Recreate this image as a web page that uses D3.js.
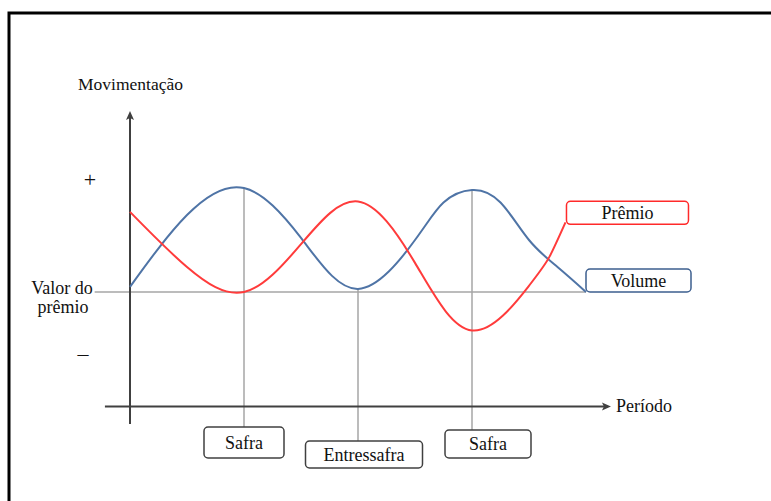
<!DOCTYPE html>
<html>
<head>
<meta charset="utf-8">
<script src="https://cdn.jsdelivr.net/npm/d3@7"></script>
<style>
body { margin: 0; background: #fff; }
</style>
</head>
<body>
<div id="chart"></div>
<script>
// periodos (x) e rotulos das marcas
var periodos = [0, 1, 2, 3, 4];
var rotulos = ["Safra", "Entressafra", "Safra"];
var rotuloPeriodo = [1, 2, 3];

// curvas (t = periodo, v = movimentacao)
var volumeT = [0, 0.5, 1, 1.5, 2, 2.5, 2.75, 3, 3.25, 3.5, 3.75, 4];
var volumeV = [0.05, 0.74, 1.0, 0.52, 0.03, 0.5, 0.86, 0.98, 0.86, 0.5, 0.24, 0.0];
var premioT = [0, 0.5, 1, 1.5, 2, 2.5, 3, 3.5, 3.68, 3.82];
var premioV = [0.77, 0.24, 0.0, 0.46, 0.87, 0.28, -0.37, 0.06, 0.34, 0.67];

var serif = '"Liberation Serif", "DejaVu Serif", "Times New Roman", serif';
var W = 771, H = 501;
var svg = d3.select('#chart').append('svg')
    .attr('width', W).attr('height', H)
    .attr('font-family', serif);

var x = d3.scaleLinear().domain([0, 4]).range([130, 586]);
var y = d3.scaleLinear().domain([-1, 1]).range([396, 188]);

// moldura
svg.append('rect')
    .attr('x', 9).attr('y', 13)
    .attr('width', W + 20).attr('height', H + 20)
    .attr('fill', 'none').attr('stroke', '#000').attr('stroke-width', 3);

var axisColor = '#404040', gray = '#a6a6a6';

// linha base (valor do premio)
svg.append('line')
    .attr('x1', x(-0.31)).attr('x2', x(4))
    .attr('y1', y(0)).attr('y2', y(0))
    .attr('stroke', gray).attr('stroke-width', 1.5);

// linhas verticais ate as caixas
var caixas = [
    {dx: 0, top: 427, w: 80, h: 31},
    {dx: 6, top: 441, w: 117, h: 27},
    {dx: 16, top: 430, w: 86, h: 28}
];
var volumeAt = function(t) { return volumeV[volumeT.indexOf(t)]; };

rotuloPeriodo.forEach(function(p, i) {
    svg.append('line')
        .attr('x1', x(p)).attr('x2', x(p))
        .attr('y1', y(volumeAt(p))).attr('y2', caixas[i].top)
        .attr('stroke', gray).attr('stroke-width', 1.5);
});

// eixos
svg.append('line')
    .attr('x1', x(0)).attr('x2', x(0))
    .attr('y1', y(-1.27)).attr('y2', y(1.71))
    .attr('stroke', axisColor).attr('stroke-width', 2);
svg.append('path')
    .attr('d', 'M' + x(0) + ',' + (y(1.73) - 1) + 'l-4,9l4,-2l4,2z')
    .attr('fill', axisColor);

svg.append('line')
    .attr('x1', x(-0.22)).attr('x2', x(4.19))
    .attr('y1', y(-1.1)).attr('y2', y(-1.1))
    .attr('stroke', axisColor).attr('stroke-width', 2);
svg.append('path')
    .attr('d', 'M' + (x(4.21) + 1) + ',' + y(-1.1) + 'l-9,-4l2,4l-2,4z')
    .attr('fill', axisColor);

// curvas
var line = d3.line()
    .x(function(d) { return x(d[0]); })
    .y(function(d) { return y(d[1]); })
    .curve(d3.curveNatural);

svg.append('path')
    .datum(d3.zip(volumeT, volumeV))
    .attr('d', line)
    .attr('fill', 'none').attr('stroke', '#4f74a6').attr('stroke-width', 2);

svg.append('path')
    .datum(d3.zip(premioT, premioV))
    .attr('d', line)
    .attr('fill', 'none').attr('stroke', '#ff3b3b').attr('stroke-width', 2);

// caixas com texto
function caixa(x0, y0, w, h, stroke, label) {
    svg.append('rect')
        .attr('x', x0).attr('y', y0).attr('width', w).attr('height', h)
        .attr('rx', 4).attr('fill', '#fff')
        .attr('stroke', stroke).attr('stroke-width', 1.5);
    svg.append('text')
        .attr('x', x0 + w / 2).attr('y', y0 + h / 2 + 6)
        .attr('text-anchor', 'middle')
        .attr('font-family', serif)
        .style('font-size', '18px').style('fill', '#111')
        .text(label);
}

var premioFim = premioT.length - 1;
caixa(x(premioT[premioFim]) + 1, y(premioV[premioFim]) - 21, 122, 23, '#ff2a2a', 'Prêmio');
caixa(x(4), y(0) - 23, 105, 23, '#3d5f8f', 'Volume');

rotuloPeriodo.forEach(function(p, i) {
    var c = caixas[i];
    caixa(x(p) - c.w / 2 + c.dx, c.top, c.w, c.h, '#404040', rotulos[i]);
});

// textos soltos
function texto(tx, ty, size, anchor, label) {
    svg.append('text').attr('x', tx).attr('y', ty)
        .attr('text-anchor', anchor)
        .attr('font-family', serif)
        .style('font-size', size).style('fill', '#111')
        .text(label);
}
texto(78, 90, '17.5px', 'start', 'Movimentação');
texto(x(4.21) + 6, y(-1.1) + 6, '18px', 'start', 'Período');
texto(90, y(1.08) + 7, '22px', 'middle', '+');
texto(83, y(-0.6) + 7, '22px', 'middle', '–');
texto(62, y(0) + 2, '18px', 'middle', 'Valor do');
texto(63, y(0) + 21, '18px', 'middle', 'prêmio');
</script>
</body>
</html>
